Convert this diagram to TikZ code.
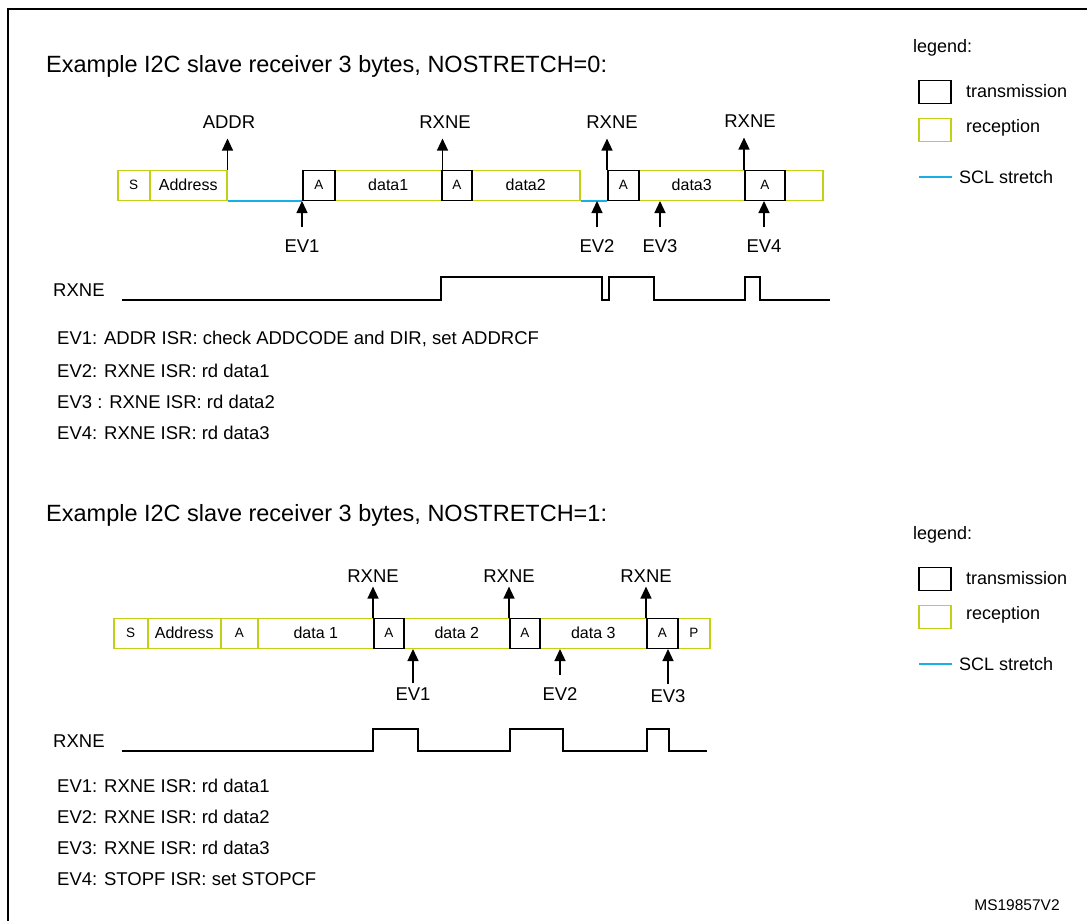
\documentclass[tikz,border=0pt]{standalone}
\usepackage{fontspec}
\setmainfont{Liberation Sans}
\usetikzlibrary{arrows.meta,positioning}

\definecolor{rxgreen}{RGB}{195,208,20}
\definecolor{sclblue}{RGB}{25,175,230}

\newcommand{\frmfont}{\fontsize{16}{18}\selectfont}
\newcommand{\frmsmall}{\fontsize{13.5}{15}\selectfont}
\newcommand{\acklbl}[1]{\frmsmall\raisebox{-2pt}{#1}}

\tikzset{
  frm/.style={inner sep=0pt, minimum height=30pt, line width=1.5pt, anchor=south west, font=\frmfont},
  txbox/.style={frm, draw=black},
  rxbox/.style={frm, draw=rxgreen},
  sclline/.style={draw=sclblue, line width=1.5pt},
  evarrow/.style={-{Triangle[width=11pt,length=12pt]}, line width=1.3pt},
  wave/.style={line width=2pt},
  lbl/.style={inner sep=0pt, font=\fontsize{18.5}{20}\selectfont},
  ttl/.style={inner sep=0pt, font=\fontsize{23.5}{26}\selectfont},
  evtxt/.style={inner sep=0pt, anchor=west, font=\fontsize{18.5}{20}\selectfont},
  lgd/.style={inner sep=0pt, anchor=west, font=\fontsize{18}{20}\selectfont}
}

\begin{document}
\begin{tikzpicture}[x=1pt,y=-1pt]
\useasboundingbox (0,0) rectangle (1087,921);
\draw[line width=2pt] (1087,9) -- (8,9) -- (8,921);

% legends
\foreach \k/\dy in {1/0, 2/487}{
  \node[lgd] (leg\k) at (913,48+\dy) {legend:};
  \node[txbox, anchor=center, minimum width=32pt, minimum height=23pt] (ltx\k) at (935,92+\dy) {};
  \node[lgd] (ltxt\k) at (966,91+\dy) {transmission};
  \node[rxbox, anchor=center, minimum width=32pt, minimum height=23pt] (lrx\k) at (935,130+\dy) {};
  \node[lgd] (lrxt\k) at (966,128+\dy) {reception};
  \coordinate (lsc\k) at (919,177+\dy);
  \node[lgd] (lsct\k) at (959,177+\dy) {SCL stretch};
  \draw[sclline] (lsc\k) -- ([xshift=-7pt]lsct\k.west);
}

% NOSTRETCH=0
\node[ttl, anchor=base west] (ttl1) at (46,72) {Example I2C slave receiver 3 bytes, NOSTRETCH=0:};

\foreach \nm/\xa/\xb/\txt in {s1/117/149/{\acklbl{S}}, adr1/149/226/Address, d11/334/441/data1,
    d12/471/579/data2, d13/638/744/data3, e1/784/822/{}}
  \node[rxbox, minimum width={(\xb-\xa)*1pt}] (\nm) at (\xa,201) {\txt};
\foreach \nm/\xa/\xb in {a11/302/334, a12/441/471, a13/607/638, a14/744/784}
  \node[txbox, minimum width={(\xb-\xa)*1pt}] (\nm) at (\xa,201) {\acklbl{A}};

\draw[sclline] (adr1.south east) -- (a11.south west);
\draw[sclline] (d12.south east) -- (a13.south west);

\node[lbl] (addr1) at (229,122) {ADDR};
\node[lbl] (rx11) at (445,122) {RXNE};
\node[lbl] (rx12) at (612,122) {RXNE};
\node[lbl] (rx13) at (750,121) {RXNE};
\draw[evarrow, shorten >=10pt] (adr1.north east) -- (adr1.north east |- addr1.south);
\draw[evarrow, shorten >=10pt] (d11.north east) -- (d11.north east |- rx11.south);
\draw[evarrow, shorten >=10pt] (a13.north west) -- (a13.north west |- rx12.south);
\draw[evarrow, shorten >=10pt] (a14.north west) -- (a14.north west |- rx13.south);

\node[lbl] (ev11) at (302,246) {EV1};
\node[lbl] (ev12) at (597,246) {EV2};
\node[lbl] (ev13) at (660,246) {EV3};
\node[lbl] (ev14) at (764,246) {EV4};
\draw[evarrow, shorten <=12pt] (ev11.north) -- (ev11.north |- a11.south);
\draw[evarrow, shorten <=12pt] (ev12.north) -- (ev12.north |- d12.south);
\draw[evarrow, shorten <=12pt] (ev13.north) -- (ev13.north |- d13.south);
\draw[evarrow, shorten <=12pt] (ev14.north) -- (ev14.north |- a14.south);

\node[lbl, anchor=west] (wl1) at (53,290) {RXNE};
\draw[wave] (122,300) -| (441,277) -| (602,300) -| (609,277) -| (654,300) -| (745,277) -| (760,300) -- (830,300);

\foreach \k/\y/\txt in {1/339/{EV1: ADDR ISR: check ADDCODE and DIR, set ADDRCF}, 2/371/{EV2: RXNE ISR: rd data1},
    3/402/{EV3 : RXNE ISR: rd data2}, 4/433/{EV4: RXNE ISR: rd data3}}
  \node[evtxt] (evt1\k) at (57,\y) {\txt};

% NOSTRETCH=1
\node[ttl, anchor=base west] (ttl2) at (46,521) {Example I2C slave receiver 3 bytes, NOSTRETCH=1:};

\foreach \nm/\xa/\xb/\txt in {s2/113/147/{\acklbl{S}}, adr2/147/220/Address, a21/220/257/{\acklbl{A}},
    d21/257/373/data 1, d22/403/509/data 2, d23/539/646/data 3, p2/677/709/{\acklbl{P}}}
  \node[rxbox, minimum width={(\xb-\xa)*1pt}] (\nm) at (\xa,649) {\txt};
\foreach \nm/\xa/\xb in {a22/373/403, a23/509/539, a24/646/677}
  \node[txbox, minimum width={(\xb-\xa)*1pt}] (\nm) at (\xa,649) {\acklbl{A}};

\node[lbl] (rx21) at (373,576) {RXNE};
\node[lbl] (rx22) at (509,576) {RXNE};
\node[lbl] (rx23) at (646,576) {RXNE};
\draw[evarrow, shorten >=4pt] (a22.north west) -- (a22.north west |- rx21.south);
\draw[evarrow, shorten >=4pt] (a23.north west) -- (a23.north west |- rx22.south);
\draw[evarrow, shorten >=4pt] (a24.north west) -- (a24.north west |- rx23.south);

\node[lbl] (ev21) at (413,694) {EV1};
\node[lbl] (ev22) at (560,694) {EV2};
\node[lbl] (ev23) at (668,696) {EV3};
\draw[evarrow, shorten <=4pt] (ev21.north) -- (ev21.north |- d22.south);
\draw[evarrow, shorten <=12pt] (ev22.north) -- (ev22.north |- d23.south);
\draw[evarrow, shorten <=5pt] (ev23.north) -- (ev23.north |- a24.south);

\node[lbl, anchor=west] (wl2) at (53,741) {RXNE};
\draw[wave] (122,751) -| (373,729) -| (418,751) -| (510,729) -| (563,751) -| (647,729) -| (669,751) -- (707,751);

\foreach \k/\y/\txt in {1/786/{EV1: RXNE ISR: rd data1}, 2/817/{EV2: RXNE ISR: rd data2},
    3/848/{EV3: RXNE ISR: rd data3}, 4/879/{EV4: STOPF ISR: set STOPCF}}
  \node[evtxt] (evt2\k) at (57,\y) {\txt};

\node[inner sep=0pt, font=\fontsize{15.5}{17}\selectfont] (msid) at (1017,905) {MS19857V2};
\end{tikzpicture}
\end{document}
